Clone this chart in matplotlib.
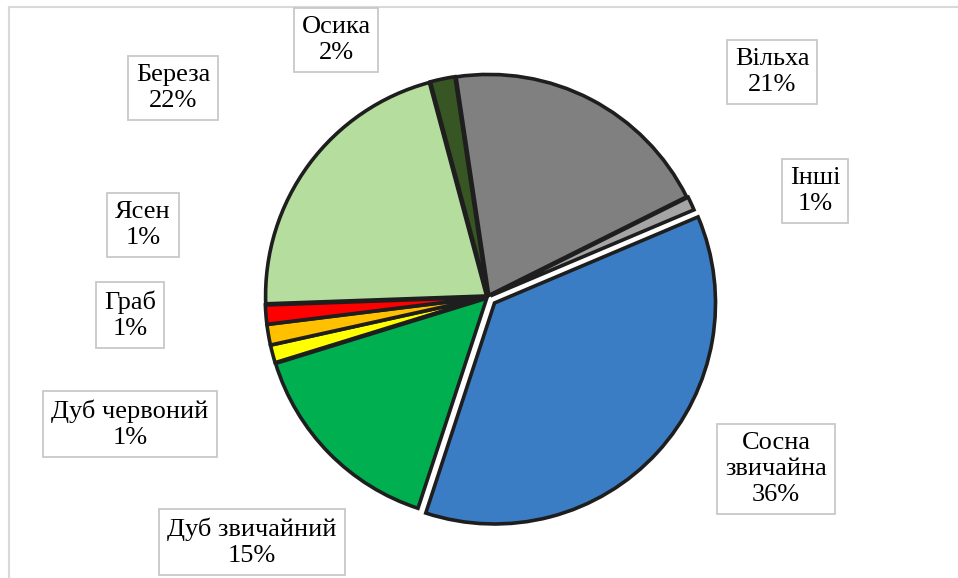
import matplotlib
matplotlib.use("Agg")
import matplotlib.pyplot as plt
from matplotlib.lines import Line2D

species = ["Осика", "Вільха", "Інші", "Сосна\nзвичайна", "Дуб звичайний",
           "Дуб червоний", "Граб", "Ясен", "Береза"]
values = [1.8, 20.0, 1.0, 36.4, 15.2, 1.3, 1.5, 1.4, 21.4]
pct_labels = ["2%", "21%", "1%", "36%", "15%", "1%", "1%", "1%", "22%"]
colors = ["#375623", "#808080", "#a5a5a5", "#3a7dc4", "#00b050",
          "#ffff00", "#ffc000", "#ff0000", "#b5dd9d"]
explode = [0.008, 0.008, 0.012, 0.04, 0.008, 0.008, 0.008, 0.008, 0.008]

# label box centres (pixels from top-left)
label_pos = [(336, 40), (772, 72), (815, 191), (776, 469), (252, 542),
             (130, 424), (130, 315), (143, 225), (173, 88)]

W, H = 958, 578
fig = plt.figure(figsize=(W / 100, H / 100), dpi=100)

cx, cy, R = 488, 297, 221
lim = 1.1
half = R * lim
ax = fig.add_axes([(cx - half) / W, (H - cy - half) / H, 2 * half / W, 2 * half / H])
ax.pie(values, colors=colors, explode=explode, startangle=105, counterclock=False,
       radius=1.0,
       wedgeprops=dict(edgecolor="#1e1e1e", linewidth=2.6, joinstyle="miter"))
ax.set_xlim(-lim, lim)
ax.set_ylim(-lim, lim)
ax.set_aspect("equal")
ax.axis("off")

for name, pct, (px, py) in zip(species, pct_labels, label_pos):
    fig.text(px / W, 1 - py / H, f"{name}\n{pct}", ha="center", va="center",
             family="Liberation Serif", fontsize=19, linespacing=1.22,
             bbox=dict(boxstyle="square,pad=0.3", facecolor="white",
                       edgecolor="#c8c8c8", linewidth=1.3))

# outer chart frame (top and left edges visible)
fig.add_artist(Line2D([9 / W, 1], [1 - 7 / H, 1 - 7 / H], color="#d9d9d9", lw=1.5))
fig.add_artist(Line2D([9 / W, 9 / W], [0, 1 - 7 / H], color="#d9d9d9", lw=1.5))

fig.savefig("out.png", dpi=100, facecolor="white")
